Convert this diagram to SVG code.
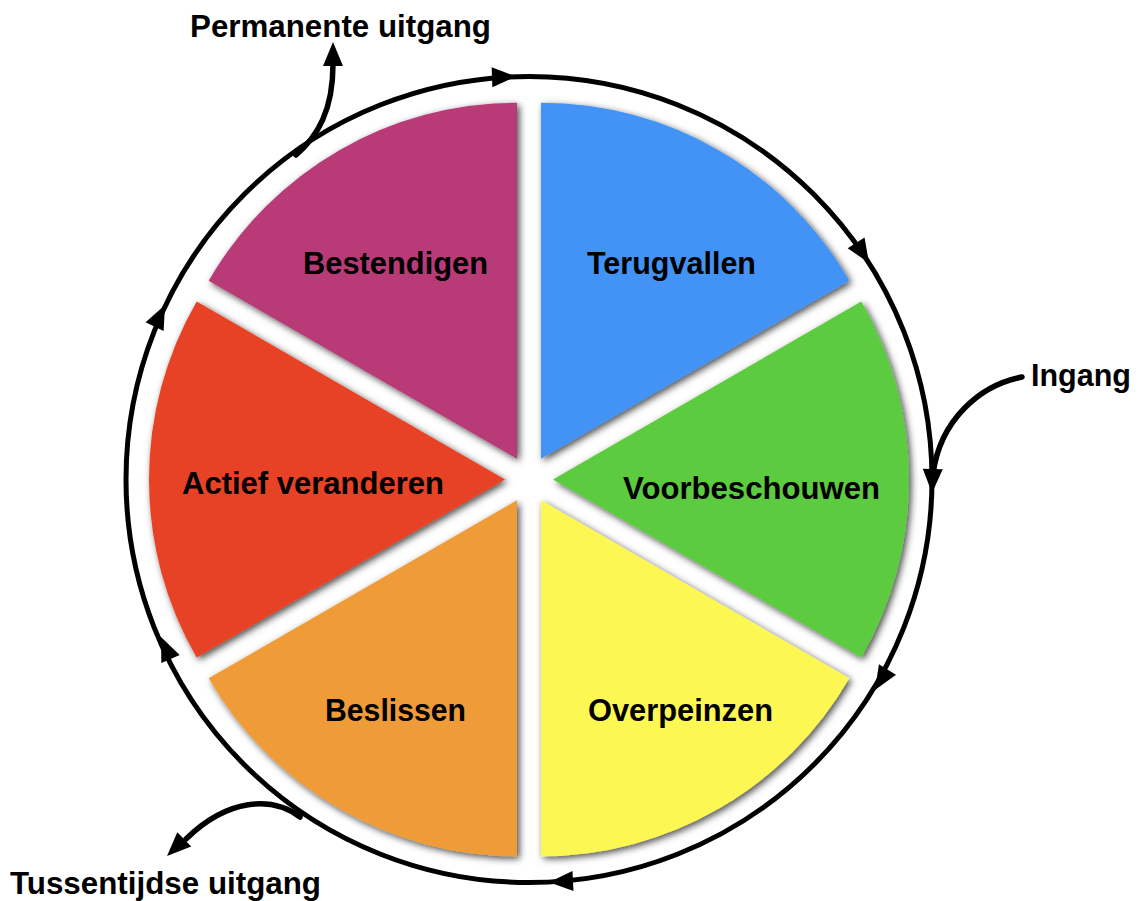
<svg xmlns="http://www.w3.org/2000/svg" xmlns:xlink="http://www.w3.org/1999/xlink" width="1138" height="901" viewBox="0 0 1138 901">
  <style>
    .lbl { font-family: "Liberation Sans", Arial, Helvetica, sans-serif; font-weight: bold; font-size: 30.5px; fill: #000; }
    .wedge { filter: url(#shadow); }
    .line { fill: none; stroke: #000; stroke-width: 5.5; stroke-linecap: round; }
    .ring { fill: none; stroke: #000; stroke-width: 5; }
  </style>
  <defs>
    <filter id="shadow" x="-10%" y="-10%" width="120%" height="120%">
      <feDropShadow dx="2.5" dy="2.5" stdDeviation="3.5" flood-color="#000" flood-opacity="0.7"/>
    </filter>
    <path id="ah" d="M0,0 L-24,-10 L-24,10 Z" fill="#000"/>
  </defs>
  <rect width="1138" height="901" fill="#fff"/>

  <g id="terugvallen">
    <path class="wedge" fill="#4293F5" d="M541,458.72 L541,102.72 A356,356 0 0 1 849.3,280.72 Z"/>
    <text class="lbl" x="587" y="274" textLength="169" lengthAdjust="spacingAndGlyphs">Terugvallen</text>
  </g>
  <g id="voorbeschouwen">
    <path class="wedge" fill="#5DCB3F" d="M553,479.5 L861.3,301.5 A356,356 0 0 1 861.3,657.5 Z"/>
    <text class="lbl" x="623" y="499" textLength="257" lengthAdjust="spacingAndGlyphs">Voorbeschouwen</text>
  </g>
  <g id="overpeinzen">
    <path class="wedge" fill="#FDF752" d="M541,500.28 L849.3,678.28 A356,356 0 0 1 541,856.28 Z"/>
    <text class="lbl" x="588" y="721" textLength="185" lengthAdjust="spacingAndGlyphs">Overpeinzen</text>
  </g>
  <g id="beslissen">
    <path class="wedge" fill="#EE9B38" d="M517,500.28 L517,856.28 A356,356 0 0 1 208.7,678.28 Z"/>
    <text class="lbl" x="325" y="721" textLength="141" lengthAdjust="spacingAndGlyphs">Beslissen</text>
  </g>
  <g id="actief-veranderen">
    <path class="wedge" fill="#E84325" d="M505,479.5 L196.7,657.5 A356,356 0 0 1 196.7,301.5 Z"/>
    <text class="lbl" x="182" y="494" textLength="262" lengthAdjust="spacingAndGlyphs">Actief veranderen</text>
  </g>
  <g id="bestendigen">
    <path class="wedge" fill="#B83A78" d="M517,458.72 L208.7,280.72 A356,356 0 0 1 517,102.72 Z"/>
    <text class="lbl" x="303" y="274" textLength="185" lengthAdjust="spacingAndGlyphs">Bestendigen</text>
  </g>

  <g id="connectors">
    <circle class="ring" cx="529" cy="479.5" r="403"/>
    <use xlink:href="#ah" href="#ah" transform="translate(516,76.5) rotate(-2)"/>
    <use xlink:href="#ah" href="#ah" transform="translate(869,263) rotate(57.5)"/>
    <use xlink:href="#ah" href="#ah" transform="translate(932,493) rotate(91.8)"/>
    <use xlink:href="#ah" href="#ah" transform="translate(875,690) rotate(121.3)"/>
    <use xlink:href="#ah" href="#ah" transform="translate(549,882.3) rotate(177)"/>
    <use xlink:href="#ah" href="#ah" transform="translate(161,637) rotate(-113.4)"/>
    <use xlink:href="#ah" href="#ah" transform="translate(165,305) rotate(-64.3)"/>

    <path id="permanente-branch" class="line" d="M296,155 C318,136 333,110 333,64"/>
    <use xlink:href="#ah" href="#ah" transform="translate(333,42) rotate(-90)"/>

    <path id="ingang-branch" class="line" d="M1022,377 C980,385 940,420 933,474"/>

    <path id="tussentijdse-branch" class="line" d="M300,817 C272,796 228,798 186,839"/>
    <use xlink:href="#ah" href="#ah" transform="translate(167,856) rotate(136)"/>
  </g>

  <g id="permanente-uitgang">
    <text class="lbl" x="190" y="37" textLength="301" lengthAdjust="spacingAndGlyphs">Permanente uitgang</text>
  </g>
  <g id="ingang">
    <text class="lbl" x="1031" y="386" textLength="100" lengthAdjust="spacingAndGlyphs">Ingang</text>
  </g>
  <g id="tussentijdse-uitgang">
    <text class="lbl" x="10" y="894" textLength="311" lengthAdjust="spacingAndGlyphs">Tussentijdse uitgang</text>
  </g>
</svg>
